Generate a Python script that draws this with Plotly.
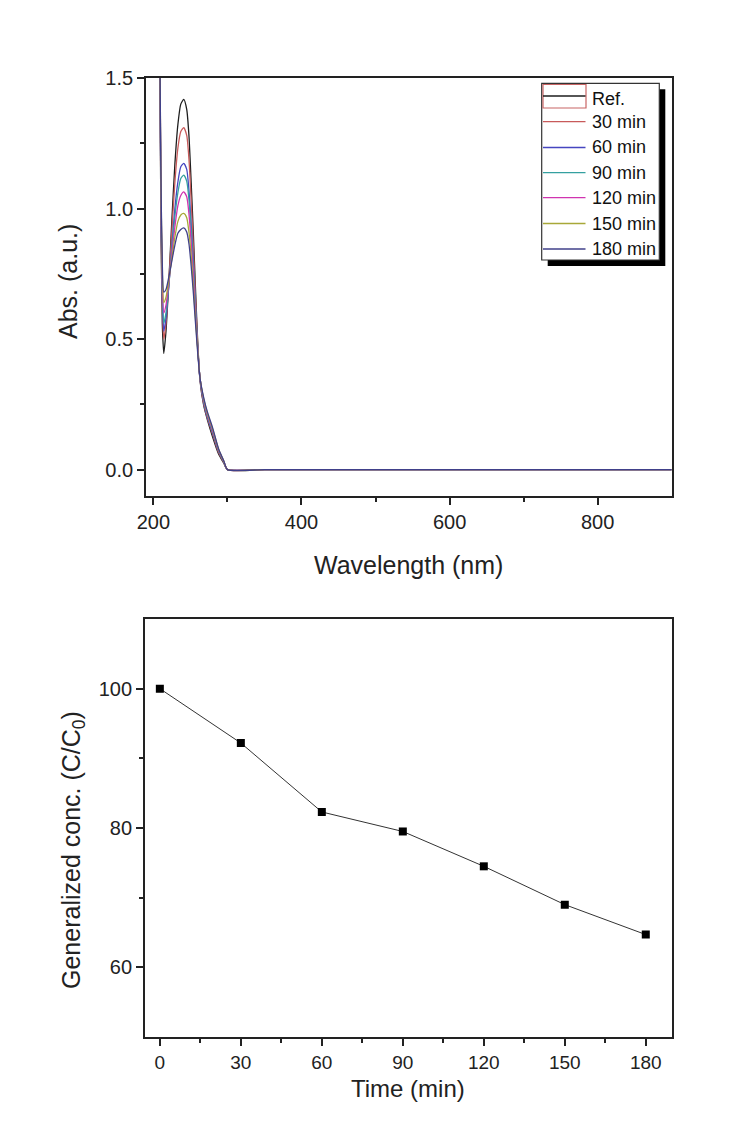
import plotly.graph_objects as go

# ---------------- data ----------------
wavelength_nm = [208, 210, 212, 214, 217, 221, 225, 229, 233, 237, 241, 245, 248, 251, 254,
                 257, 260, 263, 268, 273, 280, 288, 295, 300, 350, 400, 500, 600, 700, 800, 900]

abs_ref = [1.90, 1.00, 0.56, 0.445, 0.53, 0.73, 0.96, 1.17, 1.32, 1.40, 1.418, 1.38, 1.28, 1.10, 0.90,
           0.68, 0.48, 0.34, 0.245, 0.19, 0.125, 0.06, 0.025, 0.0, 0.0, 0.0, 0.0, 0.0, 0.0, 0.0, 0.0]
abs_30 = [1.90, 1.05, 0.62, 0.50, 0.56, 0.73, 0.92, 1.10, 1.23, 1.295, 1.31, 1.28, 1.19, 1.03, 0.85,
          0.65, 0.47, 0.345, 0.25, 0.195, 0.135, 0.065, 0.028, 0.0, 0.0, 0.0, 0.0, 0.0, 0.0, 0.0, 0.0]
abs_60 = [1.90, 1.08, 0.66, 0.53, 0.58, 0.71, 0.86, 1.00, 1.10, 1.16, 1.173, 1.15, 1.07, 0.94, 0.79,
          0.62, 0.46, 0.345, 0.255, 0.20, 0.14, 0.07, 0.03, 0.0, 0.0, 0.0, 0.0, 0.0, 0.0, 0.0, 0.0]
abs_90 = [1.90, 1.10, 0.69, 0.56, 0.60, 0.71, 0.85, 0.97, 1.06, 1.115, 1.128, 1.105, 1.035, 0.915, 0.77,
          0.61, 0.46, 0.35, 0.26, 0.205, 0.145, 0.072, 0.03, 0.0, 0.0, 0.0, 0.0, 0.0, 0.0, 0.0, 0.0]
abs_120 = [1.90, 1.12, 0.72, 0.60, 0.63, 0.72, 0.83, 0.93, 1.01, 1.05, 1.064, 1.045, 0.98, 0.87, 0.74,
           0.59, 0.455, 0.35, 0.265, 0.21, 0.15, 0.075, 0.032, 0.0, 0.0, 0.0, 0.0, 0.0, 0.0, 0.0, 0.0]
abs_150 = [1.90, 1.14, 0.76, 0.64, 0.66, 0.73, 0.81, 0.89, 0.95, 0.975, 0.981, 0.965, 0.91, 0.82, 0.70,
           0.57, 0.45, 0.35, 0.27, 0.215, 0.155, 0.078, 0.033, 0.0, 0.0, 0.0, 0.0, 0.0, 0.0, 0.0, 0.0]
abs_180 = [1.90, 1.16, 0.79, 0.68, 0.69, 0.74, 0.80, 0.86, 0.905, 0.92, 0.926, 0.91, 0.865, 0.78, 0.675,
           0.555, 0.44, 0.35, 0.275, 0.22, 0.16, 0.08, 0.034, 0.0, 0.0, 0.0, 0.0, 0.0, 0.0, 0.0, 0.0]

series_names = ["Ref.", "30 min", "60 min", "90 min", "120 min", "150 min", "180 min"]
series_values = [abs_ref, abs_30, abs_60, abs_90, abs_120, abs_150, abs_180]
series_colors = ["#1e1e1e", "#c85a5a", "#4646c0", "#34a0a0", "#d034b0", "#a8a838", "#40408a"]

time_min = [0, 30, 60, 90, 120, 150, 180]
conc = [100.0, 92.2, 82.3, 79.5, 74.5, 69.0, 64.7]

# ---------------- layout helpers ----------------
W, H = 754, 1136
def px(x):
    return x / W
def py(y):
    return 1 - y / H

FONT = "Arial, Liberation Sans, sans-serif"
AXC = "#222222"

fig = go.Figure()

for name, vals, col in zip(series_names, series_values, series_colors):
    fig.add_trace(go.Scatter(x=wavelength_nm, y=vals, mode="lines", name=name,
                             line=dict(color=col, width=1.3, shape="spline", smoothing=0.6),
                             xaxis="x", yaxis="y", showlegend=False))

fig.add_trace(go.Scatter(x=time_min, y=conc, mode="lines+markers", name="C/C0",
                         line=dict(color="#333333", width=1),
                         marker=dict(symbol="square", size=8, color="black"),
                         xaxis="x2", yaxis="y2", showlegend=False))

axis_common = dict(showline=True, linecolor=AXC, linewidth=1.8, mirror=True,
                   ticks="outside", ticklen=7, tickwidth=1.5, tickcolor=AXC,
                   showgrid=False, zeroline=False, automargin=False,
                   tickfont=dict(family=FONT, size=20, color=AXC))

fig.update_layout(
    width=W, height=H, autosize=False,
    margin=dict(l=0, r=0, t=0, b=0),
    paper_bgcolor="white", plot_bgcolor="white",
    template="none",
    xaxis=dict(axis_common, domain=[px(146), px(671.7)], anchor="y",
               range=[190, 900], tickvals=[200, 400, 600, 800],
               minor=dict(tickvals=[300, 500, 700], ticks="outside", ticklen=4,
                          tickwidth=1.5, tickcolor=AXC)),
    yaxis=dict(axis_common, domain=[py(495.7), py(78)], anchor="x",
               range=[-0.1, 1.5], tickvals=[0, 0.5, 1.0, 1.5],
               ticktext=["0.0", "0.5", "1.0", "1.5"],
               minor=dict(tickvals=[0.25, 0.75, 1.25], ticks="outside", ticklen=4,
                          tickwidth=1.5, tickcolor=AXC)),
    xaxis2=dict(axis_common, domain=[px(145), px(671.7)], anchor="y2",
                range=[-5.5, 189.6], tickvals=[0, 30, 60, 90, 120, 150, 180],
                tickfont=dict(family=FONT, size=19, color=AXC),
                minor=dict(tickvals=[15, 45, 75, 105, 135, 165], ticks="outside", ticklen=4,
                           tickwidth=1.5, tickcolor=AXC)),
    yaxis2=dict(axis_common, domain=[py(1037), py(619)], anchor="x2",
                range=[50, 110], tickvals=[60, 80, 100],
                minor=dict(tickvals=[70, 90], ticks="outside", ticklen=4,
                           tickwidth=1.5, tickcolor=AXC)),
)

# ---------------- axis titles ----------------
title_font = dict(family=FONT, size=25, color=AXC)
annotations = [
    dict(text="Wavelength (nm)", x=px(408), y=py(565), xref="paper", yref="paper",
         showarrow=False, font=title_font, xanchor="center", yanchor="middle"),
    dict(text="Abs. (a.u.)", x=px(68), y=py(282), xref="paper", yref="paper",
         showarrow=False, font=title_font, textangle=-90, xanchor="center", yanchor="middle"),
    dict(text="Time (min)", x=px(408), y=py(1088), xref="paper", yref="paper",
         showarrow=False, font=dict(family=FONT, size=24, color=AXC),
         xanchor="center", yanchor="middle"),
    dict(text="Generalized conc. (C/C<sub>0</sub>)", x=px(73), y=py(850), xref="paper", yref="paper",
         showarrow=False, font=title_font, textangle=-90, xanchor="center", yanchor="middle"),
]

# ---------------- legend (Origin style, with shadow) ----------------
shapes = []
L, T, R, B = 541.7, 83.3, 659.3, 260.0
shapes.append(dict(type="rect", xref="paper", yref="paper", x0=px(L + 6), x1=px(R + 6),
                   y0=py(B + 6), y1=py(T + 6), fillcolor="black", line=dict(width=0), layer="above"))
shapes.append(dict(type="rect", xref="paper", yref="paper", x0=px(L), x1=px(R),
                   y0=py(B), y1=py(T), fillcolor="white", line=dict(color="#333333", width=1.2),
                   layer="above"))
legend_font = dict(family=FONT, size=18, color="#111111")
row_y = [96, 121.7, 147.5, 172.7, 197.7, 223.5, 249.0]
for i, (name, col) in enumerate(zip(series_names, series_colors)):
    yy = row_y[i]
    if i == 0:
        shapes.append(dict(type="rect", xref="paper", yref="paper", x0=px(543), x1=px(586),
                           y0=py(108), y1=py(84.5), fillcolor="white",
                           line=dict(color="#c86464", width=1.2), layer="above"))
    shapes.append(dict(type="line", xref="paper", yref="paper", x0=px(543), x1=px(585.5),
                       y0=py(yy), y1=py(yy), line=dict(color=col, width=1.3), layer="above"))
    annotations.append(dict(text=name, x=px(590), y=py(yy + (3 if i == 0 else 0)),
                            xref="paper", yref="paper", showarrow=False, font=legend_font,
                            xanchor="left", yanchor="middle"))

fig.update_layout(shapes=shapes, annotations=annotations)

fig.write_html("out.html", config={"displayModeBar": False},
               post_script="document.body.style.margin='0px';document.body.style.overflow='hidden';")
